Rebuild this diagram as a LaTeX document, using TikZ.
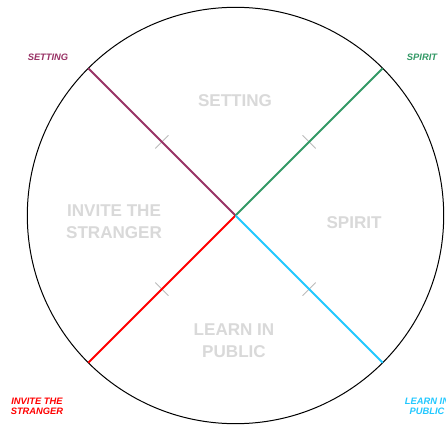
\documentclass[tikz,border=0pt]{standalone}
\usepackage{fontspec}
\setmainfont{Liberation Sans}
\usetikzlibrary{calc}
\definecolor{cset}{HTML}{993366}
\definecolor{cspi}{HTML}{339966}
\definecolor{cinv}{HTML}{FF0000}
\definecolor{clrn}{HTML}{22C8FF}
\definecolor{cinner}{HTML}{D9D9D9}
\definecolor{ctick}{HTML}{BBBBBB}
\tikzset{
  spoke/.style={line width=1.5pt},
  tickmark/.style={draw=ctick, line width=0.6pt},
  inner/.style={text=cinner, font=\fontsize{12.8}{16.5}\selectfont\bfseries, align=center, inner sep=0pt},
  outer/.style={font=\fontsize{7}{7.5}\selectfont\bfseries\itshape, align=center, inner sep=0pt},
}
\begin{document}
\begin{tikzpicture}[x=0.75pt,y=-0.75pt]
\useasboundingbox (0,0) rectangle (446,427);
\fill[white] (0,0) rectangle (446,427);
\coordinate (c) at (235.5,215.5);
\draw[line width=0.75pt] (c) circle[radius=208.2*0.75pt];
\coordinate (eset) at ($(c)+(-147.2,-147.2)$);
\coordinate (espi) at ($(c)+(147.2,-147.2)$);
\coordinate (einv) at ($(c)+(-147.2,147.2)$);
\coordinate (elrn) at ($(c)+(147.2,147.2)$);
\foreach \e in {eset,espi,einv,elrn}{
  \coordinate (m\e) at ($(c)!0.5!(\e)$);
  \draw[tickmark] ($(m\e)!7pt!90:(\e)$) -- ($(m\e)!7pt!-90:(\e)$);
}
\draw[spoke, cset] (c) -- (eset);
\draw[spoke, cspi] (c) -- (espi);
\draw[spoke, cinv] (c) -- (einv);
\draw[spoke, clrn] (c) -- (elrn);
\node[inner] (iset) at (235,101) {SETTING};
\node[inner] (ispi) at (354,223) {SPIRIT};
\node[inner] (iinv) at (114,222) {INVITE THE\\STRANGER};
\node[inner] (ilrn) at (234,341) {LEARN IN\\PUBLIC};
\node[outer, text=cset] (oset) at (48,57) {SETTING};
\node[outer, text=cspi] (ospi) at (422,57) {SPIRIT};
\node[outer, text=cinv] (oinv) at (37,406) {INVITE THE\\STRANGER};
\node[outer, text=clrn] (olrn) at (427,406) {LEARN IN\\PUBLIC};
\end{tikzpicture}
\end{document}
